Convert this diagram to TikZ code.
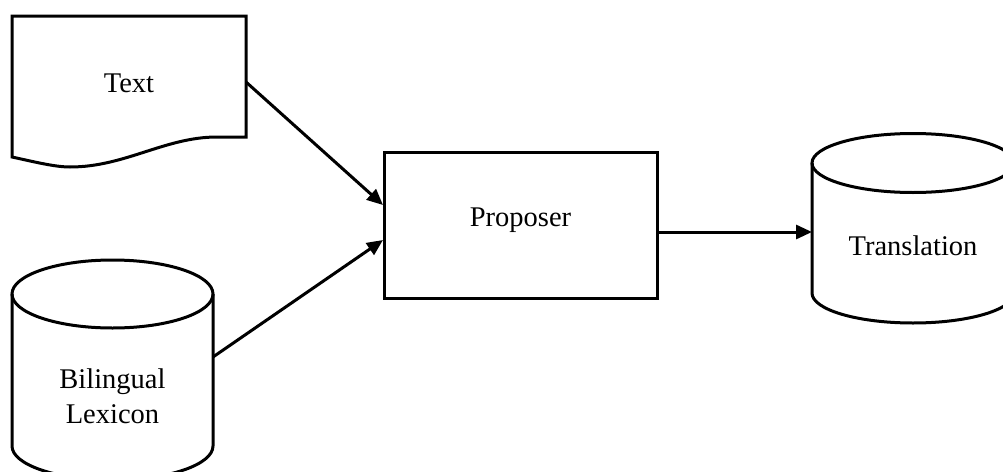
\documentclass[tikz,border=0pt]{standalone}
\usepackage{fontspec}
\setmainfont{Liberation Serif}
\usetikzlibrary{arrows.meta}
\begin{document}
\begin{tikzpicture}[x=1pt,y=-1pt,
  outline/.style={line width=3pt, line join=miter},
  label/.style={font=\fontsize{28.5}{35}\selectfont, align=center, inner sep=0pt},
  flow/.style={line width=3pt, -{Triangle[length=16pt,width=14pt]}}]
  \useasboundingbox (0,0) rectangle (1003,471);

  % Text document with wavy bottom
  \draw[outline] (246,137) -- (246,16) -- (12,16) -- (12,157)
    .. controls (35,162) and (55,167) .. (70,167)
    .. controls (125,167) and (165,137) .. (217,137) -- cycle;
  \node[label, anchor=base] (text) at (129,92) {Text};
  \coordinate (textout) at (246,82);

  % Bilingual lexicon cylinder
  \draw[outline] (12,294) -- (12,446) arc[start angle=180, end angle=360, x radius=100.5, y radius=-34] -- (213,294);
  \draw[outline] (112.5,294) ellipse[x radius=100.5, y radius=34];
  \node[label, anchor=base] (lex) at (112.5,423) {Bilingual\\Lexicon};
  \coordinate (lexout) at (213,357);

  % Proposer box
  \node[draw, outline, minimum width=273pt, minimum height=146pt, inner sep=0pt] (prop) at (520.5,225) {};
  \node[label, anchor=base] (proptext) at (520.5,226) {Proposer};
  \coordinate (propin1) at (383,205);
  \coordinate (propin2) at (383,240);
  \coordinate (propout) at (657,232);

  % Translation cylinder
  \draw[outline] (812,163) -- (812,293) arc[start angle=180, end angle=360, x radius=101, y radius=-30] -- (1014,163);
  \draw[outline] (913,163) ellipse[x radius=101, y radius=29.5];
  \node[label, anchor=base] (trans) at (913,255) {Translation};
  \coordinate (transin) at (812,232);

  % Connectors
  \draw[flow] (textout) -- (propin1);
  \draw[flow] (lexout) -- (propin2);
  \draw[flow] (propout) -- (transin);
\end{tikzpicture}
\end{document}
